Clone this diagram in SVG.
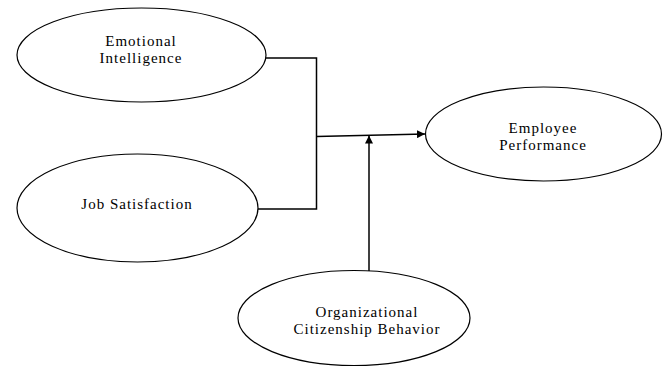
<svg xmlns="http://www.w3.org/2000/svg" width="671" height="367" viewBox="0 0 671 367">
<style>
.node ellipse{fill:#fff;stroke:#000;stroke-width:1.2}
.node text{font-family:'Liberation Serif','DejaVu Serif',serif;font-size:15px;fill:#000;text-anchor:middle;letter-spacing:1px}
.conn path{fill:none;stroke:#000;stroke-width:1.5}
</style>
<defs>
<marker id="arr" viewBox="0 0 10 10" refX="10" refY="5" markerWidth="8" markerHeight="8" markerUnits="userSpaceOnUse" orient="auto">
<path d="M0,0 L10,5 L0,10 z" fill="#000"/>
</marker>
</defs>
<rect width="671" height="367" fill="#fff"/>
<g id="n-ei" class="node">
<ellipse cx="141.5" cy="55" rx="124.5" ry="47"/>
<text x="141" y="46" font-family="Liberation Serif, serif">Emotional</text>
<text x="141" y="63" font-family="Liberation Serif, serif">Intelligence</text>
</g>
<g id="n-js" class="node">
<ellipse cx="137.5" cy="208" rx="120.5" ry="54"/>
<text x="137" y="209" font-family="Liberation Serif, serif">Job Satisfaction</text>
</g>
<g id="n-ep" class="node">
<ellipse cx="543.5" cy="134" rx="118" ry="47"/>
<text x="543" y="133" font-family="Liberation Serif, serif">Employee</text>
<text x="543" y="150" font-family="Liberation Serif, serif">Performance</text>
</g>
<g id="n-ocb" class="node">
<ellipse cx="354" cy="318" rx="116" ry="47.5"/>
<text x="367" y="317" font-family="Liberation Serif, serif">Organizational</text>
<text x="367" y="334" font-family="Liberation Serif, serif">Citizenship Behavior</text>
</g>
<g id="connectors" class="conn">
<path d="M266,58 H316.5 V209 H258"/>
<path d="M316.5,136.5 L425,134" marker-end="url(#arr)"/>
<path d="M369,271 V135.5" marker-end="url(#arr)"/>
</g>
</svg>
